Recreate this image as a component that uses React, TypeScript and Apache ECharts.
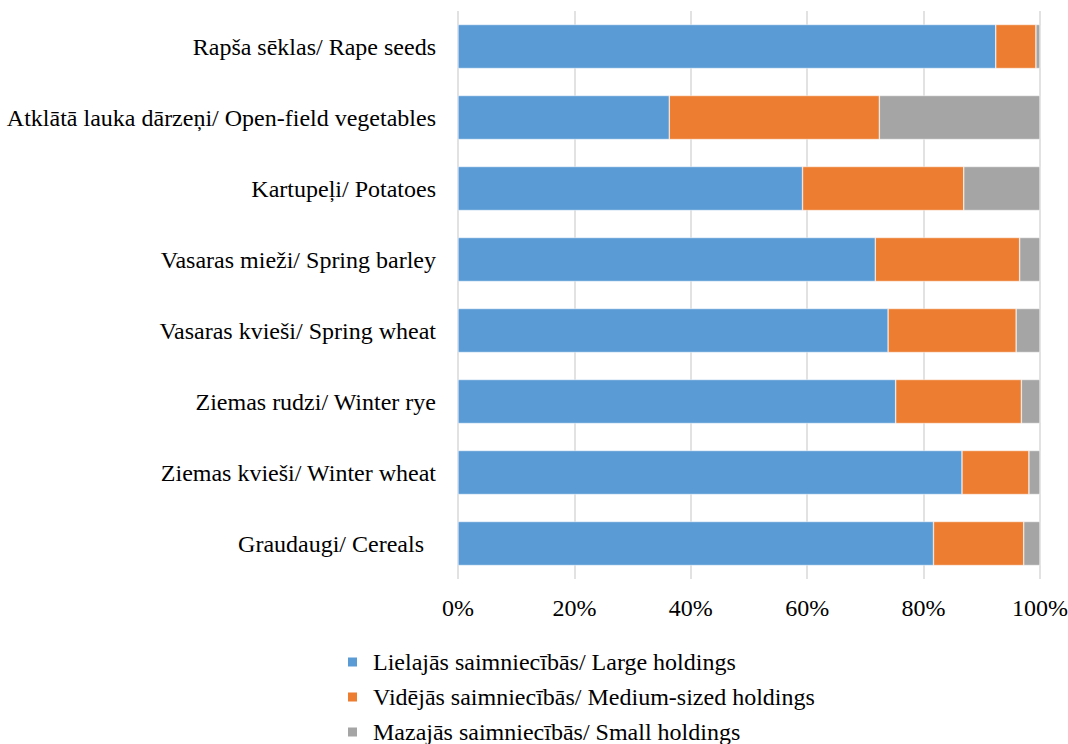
import React, { useEffect, useRef } from "react";
import * as echarts from "echarts";

const categories = [
  "Rapša sēklas/ Rape seeds",
  "Atklātā lauka dārzeņi/ Open-field vegetables",
  "Kartupeļi/ Potatoes",
  "Vasaras mieži/ Spring barley",
  "Vasaras kvieši/ Spring wheat",
  "Ziemas rudzi/ Winter rye",
  "Ziemas kvieši/ Winter wheat",
  "Graudaugi/ Cereals",
];
const seriesNames = [
  "Lielajās saimniecībās/ Large holdings",
  "Vidējās saimniecībās/ Medium-sized holdings",
  "Mazajās saimniecībās/ Small holdings",
];
const large = [92.4, 36.3, 59.2, 71.7, 73.9, 75.2, 86.6, 81.7];
const medium = [6.9, 36.1, 27.7, 24.8, 22.0, 21.6, 11.5, 15.5];
const small = [0.7, 27.6, 13.1, 3.5, 4.1, 3.2, 1.9, 2.8];
const xTicks = [0, 20, 40, 60, 80, 100];
const colors = ["#5B9BD5", "#ED7D31", "#A5A5A5"];

export default function App() {
  const ref = useRef<HTMLDivElement>(null);
  useEffect(() => {
    if (!ref.current) return;
    const chart = echarts.init(ref.current, null, { renderer: "svg" });
    const font = "'Liberation Serif', 'Times New Roman', serif";
    const values = [large, medium, small];
    chart.setOption({
      animation: false,
      textStyle: { fontFamily: font },
      grid: {
        left: 458,
        right: 28,
        top: 11,
        height: 568,
        containLabel: false,
        outerBoundsMode: "none",
      },
      legend: {
        orient: "vertical",
        left: 341,
        top: 645,
        height: 300,
        itemWidth: 11,
        itemHeight: 11,
        itemGap: 11,
        icon: "rect",
        textStyle: { fontFamily: font, fontSize: 24, color: "#000", padding: [0, 0, 0, 10] },
        data: seriesNames,
      },
      xAxis: {
        type: "value",
        min: xTicks[0],
        max: xTicks[xTicks.length - 1],
        interval: 20,
        axisLine: { show: false },
        axisTick: { show: false },
        splitLine: { show: true, lineStyle: { color: "#d9d9d9", width: 1.5 } },
        axisLabel: {
          formatter: (v: number) => `${v}%`,
          fontFamily: font,
          fontSize: 24,
          color: "#000",
          margin: 17,
        },
      },
      yAxis: {
        type: "category",
        inverse: true,
        data: categories.map((c, i) =>
          i === categories.length - 1
            ? { value: c, textStyle: { padding: [0, 12, 0, 0] } }
            : c
        ),
        axisLine: { show: false },
        axisTick: { show: false },
        splitLine: { show: false },
        axisLabel: { fontFamily: font, fontSize: 24, color: "#000", margin: 22 },
      },
      series: seriesNames.map((name, i) => ({
        name,
        type: "bar",
        stack: "total",
        barWidth: 44,
        data: values[i],
        itemStyle: { color: colors[i], borderColor: "#ffffff", borderWidth: 0.5 },
      })),
    });
    return () => chart.dispose();
  }, []);
  return (
    <div
      ref={ref}
      style={{ position: "absolute", left: 0, top: 0, width: 1068, height: 744 }}
    />
  );
}
